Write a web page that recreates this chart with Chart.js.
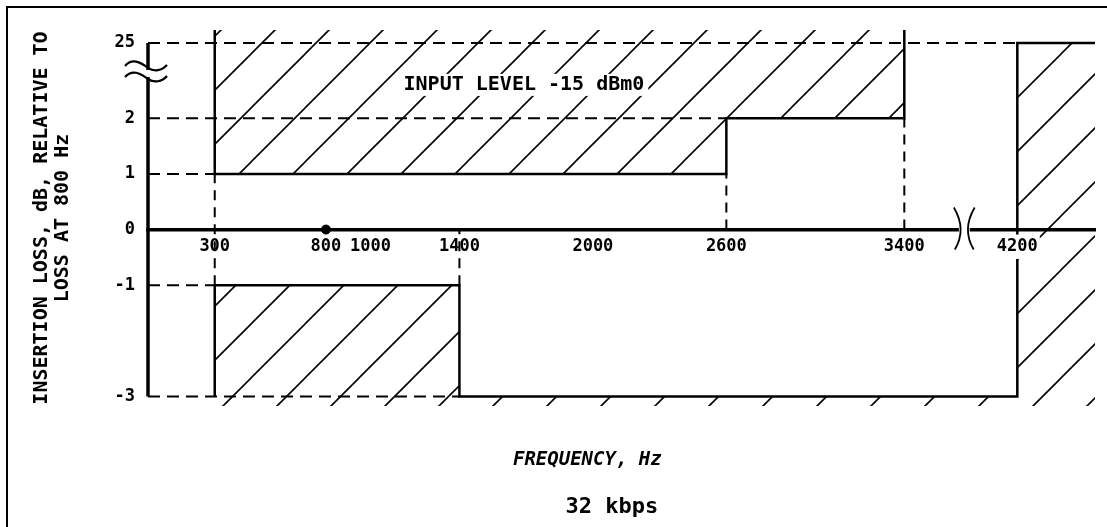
<!DOCTYPE html>
<html>
<head>
<meta charset="utf-8">
<script src="https://cdn.jsdelivr.net/npm/chart.js@4"></script>
<style>
  html, body { margin: 0; padding: 0; background: #fff; }
  #wrap { position: relative; width: 1107px; height: 527px; overflow: hidden; }
  #cadre { position: absolute; left: 6px; top: 6px; width: 1110px; height: 530px;
           border-top: 2px solid #000; border-left: 2px solid #000; }
  #masque { position: absolute; left: 0; top: 0; }
</style>
</head>
<body>
<div id="wrap">
  <div id="cadre"></div>
  <canvas id="masque" width="1107" height="527"></canvas>
</div>
<script>
// --- DONNÉES ---
const FREQ_TICKS = [300, 800, 1000, 1400, 2000, 2600, 3400, 4200];
const LOSS_TICKS = [-3, -1, 0, 1, 2, 25];

const FREQ_END = 4750;     // bout de l'axe des fréquences (après la coupure)
const LOSS_TOP = 29;       // haut des hachures (au-dessus de 25)
const LOSS_BOTTOM = -3.17; // bas des hachures

// gabarit supérieur (affaiblissement max)
const upperFreq = [300, 300, 2600, 2600, 3400, 3400];
const upperLoss = [LOSS_TOP, 1, 1, 2, 2, LOSS_TOP];

// gabarit inférieur (affaiblissement min) + zone au-delà de 4200 Hz
const lowerFreq = [300, 300, 1400, 1400, 4200, 4200, FREQ_END];
const lowerLoss = [-3, -1, -1, -3, -3, 25, 25];

// pointillés horizontaux
const guideLoss = [25, 2, 1, -1, -3];
const guideLossTo = [4200, 2600, 300, 300, 1400];
// pointillés verticaux
const guideFreq = [300, 1400, 2600, 3400];
const guideFreqLow = [-1, -1, 0, 0];
const guideFreqHigh = [1, 0, 1, 2];

const REF_FREQ = 800;             // point de référence 800 Hz
const FREQ_BREAK = [3772, 3877];  // coupure axe X
const LOSS_BREAK = [14, 17.4];    // coupure axe Y

// --- COUPURES D'ÉCHELLE ---
function xPos(f) { return f <= 3400 ? f : 3400 + (f - 3400) * 0.635; }
function yPos(v) { return v <= 2 ? v : 2 + (v - 2) * 0.0587; }
const zip = (fs, ls) => fs.map((f, i) => ({ x: xPos(f), y: yPos(ls[i]) }));

const MONO = '"DejaVu Sans Mono", monospace';

function creerHachure() {
    const t = 54;
    const c = document.createElement('canvas');
    c.width = t; c.height = t;
    const g = c.getContext('2d');
    g.strokeStyle = '#000';
    g.lineWidth = 1.6;
    g.beginPath();
    g.moveTo(0, t); g.lineTo(t, 0);
    g.moveTo(-6, 6); g.lineTo(6, -6);
    g.moveTo(t - 6, t + 6); g.lineTo(t + 6, t - 6);
    g.stroke();
    const p = document.getElementById('masque').getContext('2d').createPattern(c, 'repeat');
    p.setTransform(new DOMMatrix().translate(35, 0));
    return p;
}
const hachure = creerHachure();

// --- DATASETS ---
const datasets = [
    { data: zip(upperFreq, upperLoss), fill: 'end', backgroundColor: hachure,
      borderColor: '#000', borderWidth: 2.5 },
    { data: zip(lowerFreq, lowerLoss), fill: 'start', backgroundColor: hachure,
      borderColor: '#000', borderWidth: 2.5 }
];
guideLoss.forEach((v, i) => datasets.push({
    data: zip([0, guideLossTo[i]], [v, v]), fill: false,
    borderColor: '#000', borderWidth: 2, borderDash: [12, 7]
}));
guideFreq.forEach((f, i) => datasets.push({
    data: zip([f, f], [guideFreqLow[i], guideFreqHigh[i]]), fill: false,
    borderColor: '#000', borderWidth: 2, borderDash: [10, 7]
}));
// axe vertical
datasets.push({ data: zip([0, 0], [-3, 25]), fill: false, borderColor: '#000', borderWidth: 3.5, clip: false });
// point 800 Hz
datasets.push({ data: zip([REF_FREQ], [0]), showLine: false, pointRadius: 4.5,
    pointBackgroundColor: '#000', pointBorderColor: '#000' });

// --- DÉCOR : coupures et textes ---
const decor = {
    id: 'decor',
    afterDraw(chart) {
        const { ctx, chartArea: ca, scales: { x, y } } = chart;
        ctx.save();
        ctx.strokeStyle = '#000';
        ctx.fillStyle = '#fff';

        // coupure de l'axe Y
        const ax = x.getPixelForValue(0);
        const yHaut = y.getPixelForValue(yPos(LOSS_BREAK[1]));
        const yBas = y.getPixelForValue(yPos(LOSS_BREAK[0]));
        ctx.fillRect(ax - 4, yHaut + 2, 8, yBas - yHaut - 4);
        ctx.lineWidth = 2.2;
        [yHaut, yBas].forEach(yy => {
            ctx.beginPath();
            ctx.moveTo(ax - 23, yy - 2);
            ctx.bezierCurveTo(ax - 16, yy - 10, ax - 8, yy - 6, ax, yy);
            ctx.bezierCurveTo(ax + 6, yy + 4, ax + 14, yy + 3, ax + 19, yy - 3);
            ctx.stroke();
        });

        // coupure de l'axe X
        const ay = y.getPixelForValue(0);
        const xa = x.getPixelForValue(xPos(FREQ_BREAK[0]));
        const xb = x.getPixelForValue(xPos(FREQ_BREAK[1]));
        ctx.fillRect(xa + 2, ay - 4, xb - xa - 4, 8);
        ctx.lineWidth = 1.8;
        ctx.beginPath();
        ctx.moveTo(xa - 3, ay - 22); ctx.quadraticCurveTo(xa + 10, ay, xa - 2, ay + 20);
        ctx.moveTo(xb + 3, ay - 22); ctx.quadraticCurveTo(xb - 10, ay, xb + 2, ay + 20);
        ctx.stroke();

        // étiquette dans le gabarit
        ctx.font = 'bold 20px ' + MONO;
        ctx.textAlign = 'center';
        ctx.textBaseline = 'middle';
        const lx = x.getPixelForValue(xPos(1690));
        const ly = y.getPixelForValue(yPos(12.2));
        const txt = 'INPUT LEVEL -15 dBm0';
        const w = ctx.measureText(txt).width;
        ctx.fillRect(lx - w / 2 - 4, ly - 11, w + 8, 22);
        ctx.fillStyle = '#000';
        ctx.fillText(txt, lx, ly);

        // titres du bas
        ctx.font = 'italic bold 19px ' + MONO;
        ctx.fillText('FREQUENCY, Hz', x.getPixelForValue(xPos(1975)), ca.bottom + 54);
        ctx.font = 'bold 22px ' + MONO;
        ctx.fillText('32 kbps', x.getPixelForValue(xPos(2085)), ca.bottom + 101);
        ctx.restore();
    }
};

// --- GRAPHIQUE ---
new Chart(document.getElementById('masque'), {
    type: 'line',
    data: { datasets },
    plugins: [decor],
    options: {
        responsive: false,
        animation: false,
        layout: { padding: { left: 8, right: 12, top: 30, bottom: 121 } },
        elements: { point: { radius: 0 }, line: { tension: 0 } },
        plugins: { legend: { display: false }, tooltip: { enabled: false } },
        scales: {
            x: {
                type: 'linear',
                position: { y: 0 },
                min: 0,
                max: xPos(FREQ_END),
                afterBuildTicks: s => { s.ticks = FREQ_TICKS.map(f => ({ value: xPos(f) })); },
                grid: { display: false, drawTicks: false },
                border: { display: true, color: '#000', width: 3.5 },
                ticks: {
                    z: 1,
                    padding: 7,
                    color: '#000',
                    maxRotation: 0,
                    autoSkip: false,
                    font: { family: MONO, size: 17, weight: 'bold' },
                    callback: (v, i) => String(FREQ_TICKS[i]),
                    showLabelBackdrop: c => c.index === FREQ_TICKS.length - 1,
                    backdropColor: '#fff',
                    backdropPadding: 2
                }
            },
            y: {
                type: 'linear',
                position: 'left',
                min: yPos(LOSS_BOTTOM),
                max: yPos(LOSS_TOP),
                afterBuildTicks: s => { s.ticks = LOSS_TICKS.map(v => ({ value: yPos(v) })); },
                afterFit: s => { s.width = 140; },
                grid: { display: false, drawTicks: false },
                border: { display: false },
                ticks: {
                    padding: 13,
                    color: '#000',
                    autoSkip: false,
                    font: { family: MONO, size: 17, weight: 'bold' },
                    callback: (v, i) => String(LOSS_TICKS[i])
                },
                title: {
                    display: true,
                    text: ['INSERTION LOSS, dB, RELATIVE TO', 'LOSS AT 800 Hz'],
                    color: '#000',
                    font: { family: MONO, size: 20, weight: 'bold', lineHeight: 1.05 },
                    padding: { top: 23, bottom: 0 }
                }
            }
        }
    }
});
</script>
</body>
</html>
